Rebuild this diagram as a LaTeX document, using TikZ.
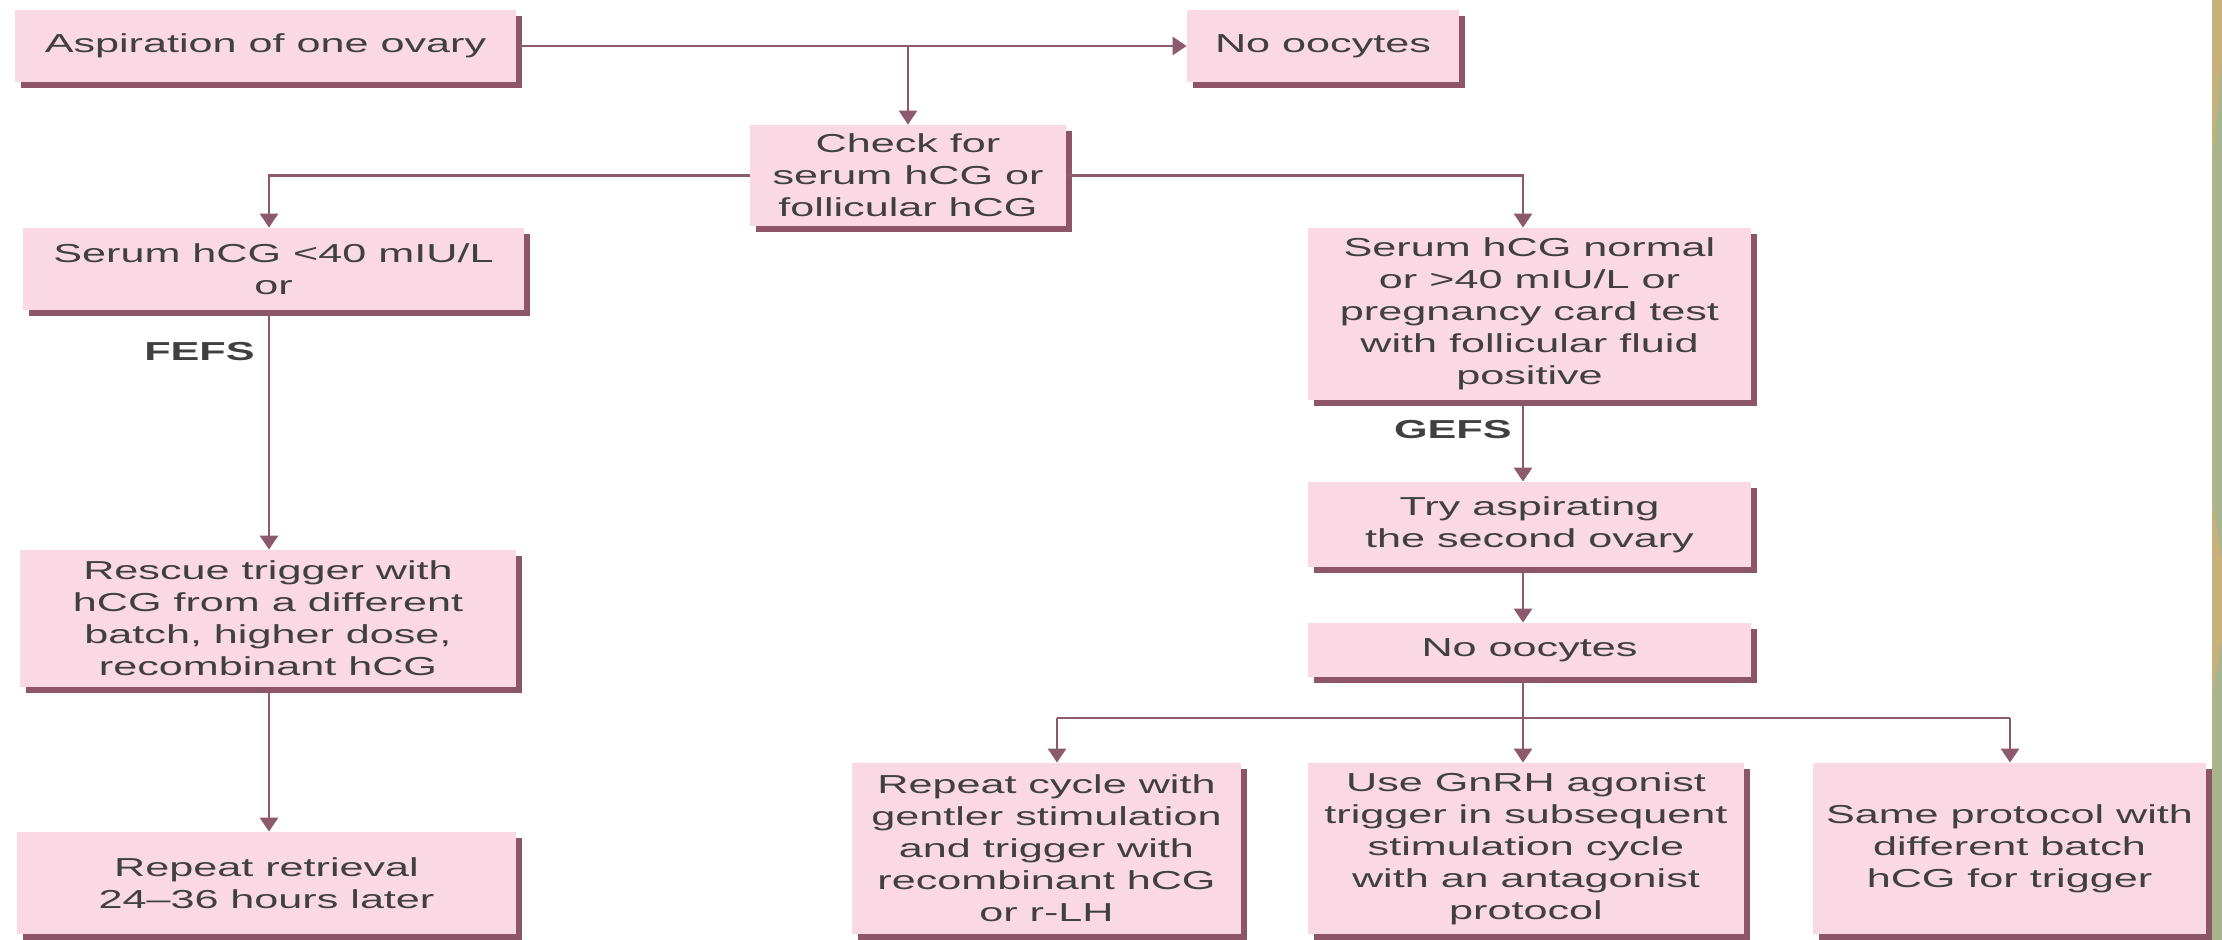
\documentclass[tikz,border=0pt]{standalone}
\usepackage{fontspec}
\setmainfont{Liberation Sans}[FakeStretch=1.66]
\usetikzlibrary{shadows,arrows.meta}
\definecolor{boxfill}{RGB}{250,216,228}
\definecolor{shadowc}{RGB}{140,86,104}
\definecolor{linec}{RGB}{140,90,108}
\definecolor{textc}{RGB}{64,64,64}
\definecolor{olive}{RGB}{168,180,140}
\definecolor{tan}{RGB}{200,176,122}
\tikzset{
  box/.style={fill=boxfill, draw=none, inner sep=0pt, align=center,
    text=textc, font=\fontsize{13}{16}\selectfont,
    drop shadow={shadow xshift=3pt, shadow yshift=-3pt, fill=shadowc, opacity=1}},
  conn/.style={draw=linec, line width=1.4pt},
  arr/.style={conn, -{Triangle[width=9pt,length=7pt]}},
  lbl/.style={text=textc, font=\fontsize{13}{16}\selectfont\bfseries, inner sep=0pt}
}
\begin{document}
\begin{tikzpicture}[x=0.5pt,y=-0.5pt]
\path[use as bounding box, fill=white] (0,0) rectangle (2222,940);
% right decorative strip
\fill[olive] (2212,0) rectangle (2222,940);
\fill[tan] (2212,0) -- (2222,0) -- (2222,60) -- (2212,162) -- cycle;
\fill[tan] (2212,498) -- (2222,560) -- (2222,640) -- (2212,695) -- cycle;

% nodes
\node[box, minimum width=250.5pt, minimum height=36pt] (A) at (265.5,46) {Aspiration of one ovary};
\node[box, minimum width=136pt, minimum height=36pt] (NO1) at (1323,46) {No oocytes};
\node[box, minimum width=158pt, minimum height=50.5pt] (CHK) at (908,175.5) {Check for\\serum hCG or\\follicular hCG};
\node[box, minimum width=250.5pt, minimum height=41pt] (S40) at (273.5,269) {Serum hCG <40 mIU/L\\or};
\node[box, minimum width=248pt, minimum height=68.5pt] (RES) at (268,618.5) {Rescue trigger with\\hCG from a different\\batch, higher dose,\\recombinant hCG};
\node[box, minimum width=249.5pt, minimum height=51pt] (REP) at (266.5,883) {Repeat retrieval\\24–36 hours later};
\node[box, minimum width=221.5pt, minimum height=86pt] (SN) at (1529.5,314) {Serum hCG normal\\or >40 mIU/L or\\pregnancy card test\\with follicular fluid\\positive};
\node[box, minimum width=221.5pt, minimum height=42.5pt] (TRY) at (1529.5,524.5) {Try aspirating\\the second ovary};
\node[box, minimum width=221.5pt, minimum height=27pt] (NO2) at (1529.5,650) {No oocytes};
\node[box, minimum width=194.5pt, minimum height=85.5pt] (RC) at (1046.5,848.5) {Repeat cycle with\\gentler stimulation\\and trigger with\\recombinant hCG\\or r-LH};
\node[box, minimum width=218pt, minimum height=85.5pt] (GN) at (1526,848.5) {Use GnRH agonist\\trigger in subsequent\\stimulation cycle\\with an antagonist\\protocol};
\node[box, minimum width=196.5pt, minimum height=85.5pt] (SP) at (2009.5,848.5) {Same protocol with\\different batch\\hCG for trigger};

% labels
\node[lbl, anchor=east] (FEFS) at (255,352) {FEFS};
\node[lbl, anchor=east] (GEFS) at (1512,430) {GEFS};

% junction coordinates
\coordinate (jtop) at (908,46);
\coordinate (jbot) at (1523,718);
\coordinate (jleft) at (1057,718);
\coordinate (jright) at (2010,718);

% connectors
\draw[arr] (A.east) -- (NO1.west);
\draw[arr] (jtop) -- (CHK.north);
\draw[arr] (CHK.west) -| (S40.north -| 269,0);
\draw[arr] (CHK.east) -| (SN.north -| 1523,0);
\draw[arr] (S40.south -| 269,0) -- (RES.north -| 269,0);
\draw[arr] (RES.south -| 269,0) -- (REP.north -| 269,0);
\draw[arr] (SN.south -| 1523,0) -- (TRY.north -| 1523,0);
\draw[arr] (TRY.south -| 1523,0) -- (NO2.north -| 1523,0);
\draw[conn] (NO2.south -| 1523,0) -- (jbot);
\draw[conn] (jleft) -- (jright);
\draw[arr] (jbot) -- (GN.north -| 1523,0);
\draw[arr] (jleft) -- (RC.north -| jleft);
\draw[arr] (jright) -- (SP.north -| jright);
\end{tikzpicture}
\end{document}
